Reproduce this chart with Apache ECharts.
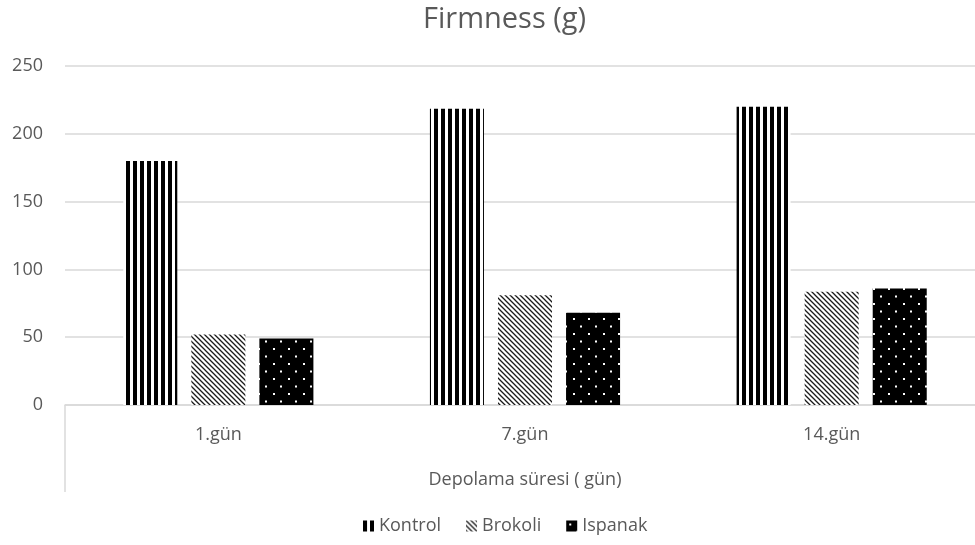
<!DOCTYPE html>
<html>
<head>
<meta charset="utf-8">
<script src="https://cdn.jsdelivr.net/npm/echarts@6/dist/echarts.min.js"></script>
<style>html,body{margin:0;padding:0;background:#fff;}#c{width:975px;height:545px;}</style>
</head>
<body>
<div id="c"></div>
<script>
const categories = ['1.gün', '7.gün', '14.gün'];
const seriesNames = ['Kontrol', 'Brokoli', 'Ispanak'];
const kontrol = [180, 218.5, 220];
const brokoli = [52, 81, 83.5];
const ispanak = [49, 68, 86];
const yTicks = [0, 50, 100, 150, 200, 250];

function makeCanvas(w, h) { const c = document.createElement('canvas'); c.width = w; c.height = h; return c; }
function stripes() {
  const c = makeCanvas(7, 7), g = c.getContext('2d');
  g.fillStyle = '#fff'; g.fillRect(0, 0, 7, 7);
  g.fillStyle = '#000'; g.fillRect(0, 0, 4, 7);
  return c;
}
function diag() {
  const c = makeCanvas(5, 5), g = c.getContext('2d');
  g.fillStyle = '#fff'; g.fillRect(0, 0, 5, 5);
  g.strokeStyle = '#1a1a1a'; g.lineWidth = 1.3;
  g.beginPath();
  g.moveTo(-1, -1); g.lineTo(6, 6);
  g.moveTo(4, -1); g.lineTo(6, 1);
  g.moveTo(-1, 4); g.lineTo(1, 6);
  g.stroke();
  return c;
}
function dots() {
  const c = makeCanvas(15, 15), g = c.getContext('2d');
  g.fillStyle = '#000'; g.fillRect(0, 0, 15, 15);
  g.fillStyle = '#fff';
  g.fillRect(3, 3, 2, 2);
  g.fillRect(10, 10.5, 2, 2);
  return c;
}
const fills = [
  { image: stripes(), repeat: 'repeat' },
  { image: diag(), repeat: 'repeat' },
  { image: dots(), repeat: 'repeat' }
];
const values = [kontrol, brokoli, ispanak];
const FONT = '"Open Sans"';
const TXT = '#595959';

const chart = echarts.init(document.getElementById('c'), null, { renderer: 'canvas' });
chart.setOption({
  animation: false,
  backgroundColor: '#fff',
  title: {
    text: 'Firmness (g)', left: 418, top: 0,
    textStyle: { fontFamily: FONT, fontSize: 29, fontWeight: 'normal', color: TXT }
  },
  legend: {
    data: seriesNames, left: 358, bottom: 5,
    icon: 'rect', itemWidth: 11, itemHeight: 11, itemGap: 25,
    textStyle: { fontFamily: FONT, fontSize: 18, color: TXT }
  },
  grid: { left: 65, top: 66, width: 920, height: 339, containLabel: false, outerBoundsMode: 'none' },
  xAxis: {
    type: 'category', data: categories,
    axisLine: { lineStyle: { color: '#d9d9d9', width: 1.5 } },
    axisTick: { show: false },
    axisLabel: { fontFamily: FONT, fontSize: 18, color: TXT, margin: 21 },
    name: 'Depolama süresi ( gün)', nameLocation: 'middle', nameGap: 66,
    nameTextStyle: { fontFamily: FONT, fontSize: 18, color: TXT }
  },
  yAxis: {
    type: 'value', min: yTicks[0], max: yTicks[yTicks.length - 1], interval: 50,
    axisLine: { show: false }, axisTick: { show: false },
    splitLine: { lineStyle: { color: '#d9d9d9', width: 1.5 } },
    axisLabel: { fontFamily: FONT, fontSize: 18, color: TXT, margin: 22 }
  },
  graphic: [{
    type: 'line', shape: { x1: 65, y1: 405, x2: 65, y2: 492 },
    style: { stroke: '#d9d9d9', lineWidth: 1.5 }
  }],
  series: seriesNames.map((n, i) => ({
    name: n, type: 'bar', data: values[i],
    barGap: '26%', barCategoryGap: '38%',
    itemStyle: { color: fills[i] }
  }))
});
</script>
</body>
</html>
